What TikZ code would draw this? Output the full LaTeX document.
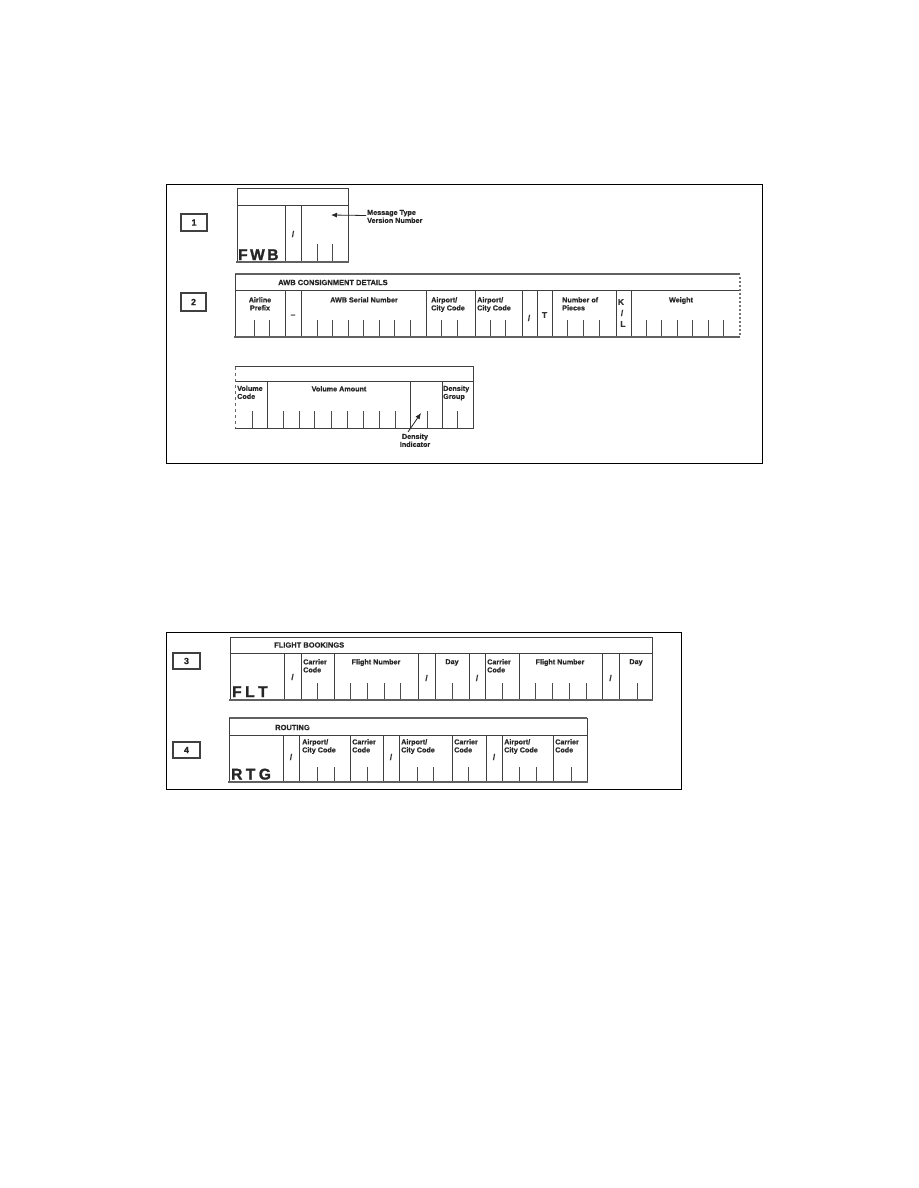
\documentclass[tikz,border=0pt]{standalone}
\usepackage{fontspec}
\setmainfont{Liberation Sans}
\newfontfamily\labfont{Liberation Sans Bold}[FakeBold=0.6]
\newfontfamily\bigfont{Liberation Sans Bold}[FakeBold=1.6]
\usetikzlibrary{arrows.meta}
\begin{document}
\begin{tikzpicture}[x=1pt,y=-1pt,
  frame/.style={draw=black,line width=0.9pt},
  numbox/.style={draw=black!75,line width=1.2pt,fill=white,inner sep=0pt,
     font=\labfont\fontsize{9}{10}\selectfont,text=black!85},
  form/.style={draw=black!75,line width=0.75pt},
  heavy/.style={draw=black!62,line width=2.5pt},
  tick/.style={draw=black!70,line width=0.65pt},
  lab/.style={font=\labfont\fontsize{7.2}{8}\selectfont,inner sep=0pt,align=left,text=black!85},
  hdr/.style={font=\labfont\fontsize{7.5}{8}\selectfont,inner sep=0pt,text=black!85},
  big/.style={font=\bigfont\fontsize{15.5}{16}\selectfont,inner sep=0pt,text=black!85},
  sl/.style={font=\labfont\fontsize{8.5}{9}\selectfont,inner sep=0pt,text=black!80},
  arr/.style={draw=black!85,line width=0.8pt,-{Latex[length=6pt,width=5pt]}}
]
\useasboundingbox (0,0) rectangle (918,1188);

% ================= Frame 1 =================
\draw[frame] (166,184) rectangle (762,463);
\node[numbox,minimum width=26pt,minimum height=17pt] (n1) at (194,222.5) {1};
\node[numbox,minimum width=25pt,minimum height=18pt] (n2) at (193.5,302) {2};

% --- FWB ---
\draw[form] (237,188) rectangle (348,262);
\draw[form] (237,205) -- (348,205);
\foreach \x in {285,301} \draw[form] (\x,205) -- (\x,262);
\foreach \x in {317,332} \draw[tick] (\x,244) -- (\x,262);
\draw[heavy] (236,262) -- (349,262);
\node[big,anchor=base west] (fwb) at (238,260) {F\kern2.5pt W\kern2.5pt B};
\node[sl] (fwbsl) at (293,234) {/};
\node[lab,anchor=west] (mt) at (367,216.5) {Message Type\\Version Number};
\coordinate (mtend) at (331,215);
\draw[arr] (mt.west) ++(-1,-1) -- (mtend);

% --- AWB consignment details ---
\draw[heavy] (235,274) -- (740,274);
\draw[form] (235,274) -- (235,337);
\draw[form] (235,290) -- (740,290);
\foreach \x in {285,301,426,475,522,537,552,616,631} \draw[form] (\x,290) -- (\x,337);
\foreach \x in {254,269,317,332,348,363,379,394,410,441,457,490,505,567,583,599,646,661,677,692,708,723}
  \draw[tick] (\x,320) -- (\x,337);
\draw[heavy] (234,337) -- (740,337);
\draw[draw=black!55,line width=2pt,dash pattern=on 2pt off 2pt] (740,277) -- (740,337);
\node[hdr,anchor=west] (awbh) at (278,282.5) {AWB CONSIGNMENT DETAILS};
\node[lab,align=center,anchor=north] (ap) at (260,297) {Airline\\Prefix};
\node[sl] (dash) at (293,316) {–};
\node[lab,anchor=north] (sn) at (364,297) {AWB Serial Number};
\node[lab,anchor=north west] (ac1) at (431,297) {Airport/\\City Code};
\node[lab,anchor=north west] (ac2) at (477,297) {Airport/\\City Code};
\node[sl] (sl2) at (529,318) {/};
\node[sl] (tt) at (544.5,315) {T};
\node[sl] (kk) at (621,302) {K};
\node[sl] (kls) at (622,313) {/};
\node[sl] (ll) at (623,324) {L};
\node[lab,anchor=north west] (np) at (562,297) {Number of\\Pieces};
\node[lab,anchor=north] (wt) at (681,297) {Weight};

% --- Volume ---
\draw[form] (235,366) -- (473,366) -- (473,428) -- (235,428);
\draw[form] (235,381) -- (473,381);
\draw[draw=black!60,line width=0.75pt,dash pattern=on 3pt off 3pt] (235,367) -- (235,428);
\foreach \x in {267,410,442} \draw[form] (\x,381) -- (\x,428);
\foreach \x in {252,283,299,314,331,347,363,379,395,427,457} \draw[tick] (\x,411) -- (\x,428);
\node[lab,anchor=north west] (vc) at (237,385.5) {Volume\\Code};
\node[lab,anchor=north] (va) at (339,386) {Volume Amount};
\node[lab,anchor=north west] (dg) at (443,385.5) {Density\\Group};
\node[lab,align=center,anchor=north] (di) at (415,433.5) {Density\\Indicator};
\coordinate (distart) at (408,432);
\coordinate (diend) at (421,413);
\draw[arr] (distart) -- (diend);

% ================= Frame 2 =================
\draw[frame] (166,632) rectangle (681,789);
\node[numbox,minimum width=27pt,minimum height=16pt] (n3) at (186.5,661) {3};
\node[numbox,minimum width=27pt,minimum height=16pt] (n4) at (186.5,750) {4};

% --- FLT ---
\draw[form] (230,637) rectangle (652,700);
\draw[form] (230,653) -- (652,653);
\foreach \x in {284,301,334,418,435,469,485,519,602,619} \draw[form] (\x,653) -- (\x,700);
\foreach \x in {317,350,367,384,400,452,502,535,552,569,586,637} \draw[tick] (\x,683) -- (\x,700);
\draw[heavy] (229,700) -- (653,700);
\node[hdr,anchor=west] (fbh) at (274,645) {FLIGHT BOOKINGS};
\node[big,anchor=base west] (flt) at (232,697) {F\kern3.5pt L\kern3.5pt T};
\node[sl] (fs1) at (292.5,677) {/};
\node[lab,anchor=north west] (cc1) at (303,659) {Carrier\\Code};
\node[lab,anchor=north] (fn1) at (376,659) {Flight Number};
\node[sl] (fs2) at (426.5,678) {/};
\node[lab,anchor=north] (d1) at (452,659) {Day};
\node[sl] (fs3) at (477,678) {/};
\node[lab,anchor=north west] (cc2) at (487,659) {Carrier\\Code};
\node[lab,anchor=north] (fn2) at (560,659) {Flight Number};
\node[sl] (fs4) at (610.5,678) {/};
\node[lab,anchor=north] (d2) at (636,659) {Day};

% --- RTG ---
\draw[heavy] (229,718) -- (587,718);
\draw[form] (229,718) -- (229,782);
\draw[form] (587,718) -- (587,782);
\draw[form] (229,735) -- (587,735);
\foreach \x in {283,299,350,383,399,452,486,502,553} \draw[form] (\x,735) -- (\x,782);
\foreach \x in {317,334,367,417,433,468,519,536,571} \draw[tick] (\x,767) -- (\x,782);
\draw[heavy] (228,782) -- (588,782);
\node[hdr,anchor=west] (rth) at (275,727.5) {ROUTING};
\node[big,anchor=base west] (rtg) at (231,779.5) {R\kern3.5pt T\kern3.5pt G};
\node[sl] (rs1) at (291,757) {/};
\node[lab,anchor=north west] (ra1) at (302,739) {Airport/\\City Code};
\node[lab,anchor=north west] (rc1) at (352,739) {Carrier\\Code};
\node[sl] (rs2) at (391,757) {/};
\node[lab,anchor=north west] (ra2) at (401,739) {Airport/\\City Code};
\node[lab,anchor=north west] (rc2) at (454,739) {Carrier\\Code};
\node[sl] (rs3) at (494,757) {/};
\node[lab,anchor=north west] (ra3) at (504,739) {Airport/\\City Code};
\node[lab,anchor=north west] (rc3) at (555,739) {Carrier\\Code};
\end{tikzpicture}
\end{document}
